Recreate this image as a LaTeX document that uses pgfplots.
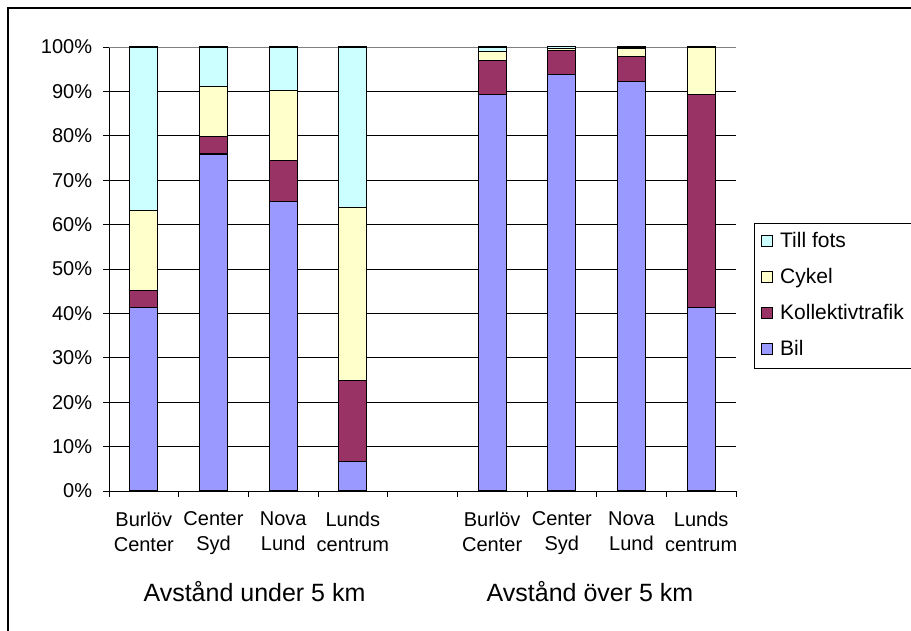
\documentclass[border=0pt]{standalone}
\usepackage{fontspec}
\setmainfont{Liberation Sans}
\usepackage{pgfplots}
\pgfplotsset{compat=1.18}

\definecolor{bil}{HTML}{9999FF}
\definecolor{koll}{HTML}{993366}
\definecolor{cykel}{HTML}{FFFFCC}
\definecolor{fots}{HTML}{CCFFFF}

\begin{document}
\fontsize{20}{24}\selectfont
\begin{tikzpicture}[x=1pt,y=1pt]
\useasboundingbox (0,0) rectangle (911,631);
% outer frame (runs off the right and bottom edges)
\draw[line width=2pt] (8,-20) -- (8,623) -- (940,623);

\begin{axis}[
    at={(109pt,140pt)}, anchor=south west,
    scale only axis,
    width=627pt, height=444pt,
    ybar stacked,
    bar width=28pt,
    xmin=-0.5, xmax=8.5,
    ymin=0, ymax=100,
    axis lines=left,
    axis line style={-, black, line width=0.9pt},
    xtick={-0.5,0.5,...,8.5},
    x tick label as interval,
    xticklabels={Burlöv\\Center, Center\\Syd, Nova\\Lund, Lunds\\centrum, {}, Burlöv\\Center, Center\\Syd, Nova\\Lund, Lunds\\centrum},
    xticklabel style={align=center, font=\fontsize{20}{25}\selectfont, yshift=-8pt},
    ytick={0,10,...,100},
    yticklabel={\pgfmathprintnumber{\tick}\%},
    yticklabel style={xshift=-4pt},
    /pgf/number format/assume math mode=true,
    tick align=outside,
    major tick length=6pt,
    tick style={black, line width=0.9pt},
    ymajorgrids=true,
    grid style={black, line width=0.9pt},
    every axis plot/.append style={draw=black, line width=1.1pt},
    reverse legend,
    legend style={
        at={(1.0287,0.6036)}, anchor=north west,
        draw=black, line width=0.8pt,
        inner sep=7pt,
        row sep=13pt,
        cells={anchor=west},
        /tikz/every odd column/.append style={column sep=5pt},
        nodes={text height=15pt, text depth=4pt, inner sep=2pt, font=\fontsize{21}{24}\selectfont},
    },
    legend image code/.code={\draw[#1, draw=black, line width=0.8pt] (0pt,-5pt) rectangle (11pt,6pt);},
]
\addplot[fill=bil] coordinates {(0,41.3) (1,75.9) (2,65.3) (3,6.6) (5,89.2) (6,93.9) (7,92.3) (8,41.3)};
\addplot[fill=koll] coordinates {(0,3.8) (1,3.9) (2,9.1) (3,18.2) (5,7.7) (6,5.4) (7,5.5) (8,48.0)};
\addplot[fill=cykel] coordinates {(0,18.0) (1,11.3) (2,15.9) (3,39.0) (5,2.0) (6,0.4) (7,1.9) (8,10.7)};
\addplot[fill=fots] coordinates {(0,36.9) (1,8.9) (2,9.7) (3,36.2) (5,1.1) (6,0.4) (7,0.3) (8,0)};
\legend{Bil, Kollektivtrafik, Cykel, Till fots}
% gray plot-area border at top and right
\draw[gray, line width=0.9pt] (rel axis cs:0,1) -- (rel axis cs:1,1) -- (rel axis cs:1,0);
\end{axis}

\node[font=\fontsize{25}{30}\selectfont, anchor=base] at (254.5,29) {Avstånd under 5 km};
\node[font=\fontsize{25}{30}\selectfont, anchor=base] at (590,29) {Avstånd över 5 km};
\end{tikzpicture}
\end{document}
